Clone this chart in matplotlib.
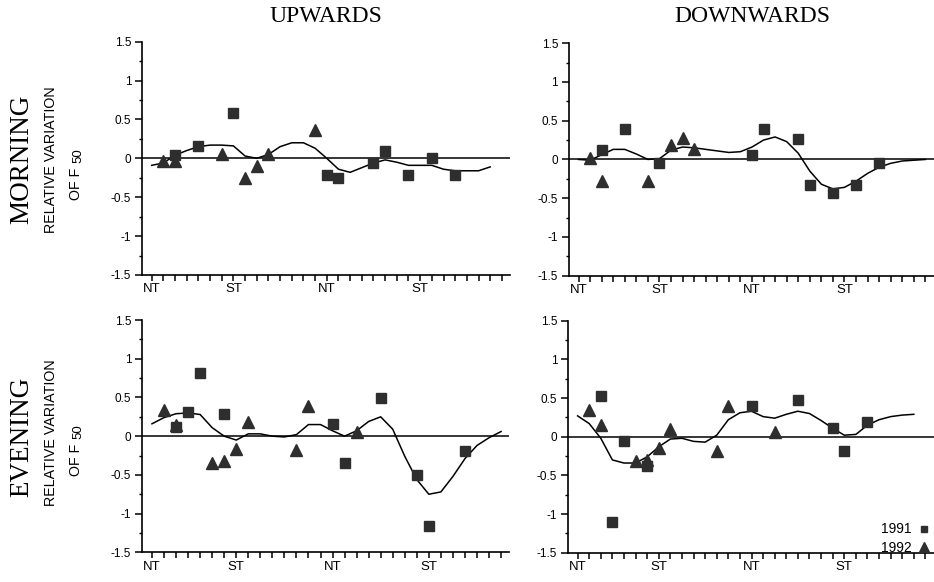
import matplotlib
matplotlib.use("Agg")
import matplotlib.pyplot as plt
from matplotlib.ticker import MultipleLocator

plt.rcParams["font.family"] = "Liberation Sans"

# tide phase labels on the x axis (tick index -> label)
phase_pos = [0, 7, 15, 23]
phase_labels = ["NT", "ST", "NT", "ST"]

# morning / upwards
mu_sq_x = [2, 4, 7, 15, 16, 19, 20, 22, 24, 26]
mu_sq_y = [0.04, 0.16, 0.58, -0.21, -0.25, -0.06, 0.10, -0.21, 0.0, -0.21]
mu_tri_x = [1, 2, 6, 8, 9, 10, 14]
mu_tri_y = [-0.04, -0.04, 0.06, -0.25, -0.10, 0.06, 0.36]
mu_curve = [-0.09, -0.06, 0.04, 0.10, 0.15, 0.17, 0.17, 0.16, 0.03, 0.0,
            0.05, 0.15, 0.20, 0.20, 0.13, 0.0, -0.14, -0.18, -0.12, -0.06,
            -0.02, -0.05, -0.09, -0.09, -0.09, -0.14, -0.16, -0.16, -0.16, -0.11]

# morning / downwards
md_sq_x = [2, 4, 7, 15, 16, 19, 20, 22, 24, 26]
md_sq_y = [0.12, 0.39, -0.04, 0.06, 0.39, 0.26, -0.33, -0.43, -0.33, -0.05]
md_tri_x = [1, 2, 6, 8, 9, 10]
md_tri_y = [0.02, -0.28, -0.28, 0.18, 0.28, 0.14]
md_curve = [0.0, -0.01, 0.06, 0.13, 0.13, 0.07, 0.0, 0.01, 0.12, 0.16,
             0.15, 0.13, 0.11, 0.09, 0.10, 0.16, 0.25, 0.29, 0.23, 0.08,
             -0.15, -0.32, -0.38, -0.36, -0.28, -0.18, -0.10, -0.05, -0.02, -0.01, 0.0]

# evening / upwards
eu_sq_x = [2, 3, 4, 6, 15, 16, 19, 22, 23, 26]
eu_sq_y = [0.12, 0.31, 0.82, 0.29, 0.16, -0.34, 0.49, -0.50, -1.16, -0.19]
eu_tri_x = [1, 2, 5, 6, 7, 8, 12, 13, 17]
eu_tri_y = [0.34, 0.14, -0.34, -0.32, -0.16, 0.18, -0.18, 0.39, 0.06]
eu_curve = [0.16, 0.24, 0.29, 0.30, 0.28, 0.11, 0.0, -0.05, 0.03, 0.03,
            0.0, -0.01, 0.02, 0.15, 0.15, 0.07, 0.0, 0.07, 0.19, 0.25,
            0.09, -0.26, -0.56, -0.75, -0.72, -0.52, -0.29, -0.12, -0.02, 0.06]

# evening / downwards
ed_sq_x = [2, 3, 4, 6, 15, 19, 22, 23, 25]
ed_sq_y = [0.53, -1.10, -0.06, -0.375, 0.40, 0.47, 0.11, -0.18, 0.19]
ed_tri_x = [1, 2, 5, 6, 7, 8, 12, 13, 17]
ed_tri_y = [0.34, 0.15, -0.32, -0.30, -0.14, 0.10, -0.19, 0.40, 0.06]
ed_curve = [0.27, 0.17, -0.02, -0.30, -0.34, -0.34, -0.26, -0.13, -0.03, -0.02,
            -0.06, -0.07, 0.02, 0.22, 0.31, 0.33, 0.26, 0.24, 0.29, 0.33,
            0.30, 0.21, 0.11, 0.02, 0.03, 0.15, 0.22, 0.26, 0.28, 0.29]

years = ["1991", "1992"]

MARK = "#2e2e2e"

fig = plt.figure(figsize=(9.34, 5.82), dpi=100)

panels = [
    ([0.1524, 0.5275, 0.3937, 0.4009], 31, mu_sq_x, mu_sq_y, mu_tri_x, mu_tri_y, mu_curve),
    ([0.6095, 0.5263, 0.3900, 0.3995], 31, md_sq_x, md_sq_y, md_tri_x, md_tri_y, md_curve),
    ([0.1524, 0.0510, 0.3931, 0.3991], 30, eu_sq_x, eu_sq_y, eu_tri_x, eu_tri_y, eu_curve),
    ([0.6085, 0.0503, 0.3910, 0.3986], 31, ed_sq_x, ed_sq_y, ed_tri_x, ed_tri_y, ed_curve),
]

axes = []
for rect, nticks, sx, sy, tx, ty, curve in panels:
    ax = fig.add_axes(rect)
    ax.set_xlim(-0.8, nticks - 0.3)
    ax.set_ylim(-1.5, 1.5)
    ax.axhline(0, color="black", lw=1.1, zorder=1)
    ax.plot(range(len(curve)), curve, color="black", lw=1.1, zorder=2)
    ax.plot(sx, sy, ls="none", marker="s", ms=7, color=MARK, zorder=3)
    ax.plot(tx, ty, ls="none", marker="^", ms=8, color=MARK, zorder=3)

    for s in ["top", "right"]:
        ax.spines[s].set_visible(False)
    for s in ["left", "bottom"]:
        ax.spines[s].set_linewidth(1.2)

    ax.set_xticks(range(nticks))
    labels = [""] * nticks
    for p, lab in zip(phase_pos, phase_labels):
        labels[p] = lab
    ax.set_xticklabels(labels, fontsize=9.5)
    ax.tick_params(axis="x", direction="out", length=4, width=1.1, pad=2)

    ax.set_yticks([-1.5, -1, -0.5, 0, 0.5, 1, 1.5])
    ax.set_yticklabels(["-1.5", "-1", "-0.5", "0", "0.5", "1", "1.5"], fontsize=8.5)
    ax.yaxis.set_minor_locator(MultipleLocator(0.25))
    ax.tick_params(axis="y", which="major", direction="out", length=5, width=1.1, pad=3)
    ax.tick_params(axis="y", which="minor", direction="out", length=2.5, width=1.0)
    axes.append(ax)

# legend in the last panel: label first, marker after
h1 = axes[3].plot([], [], ls="none", marker="s", ms=5, color=MARK)[0]
h2 = axes[3].plot([], [], ls="none", marker="^", ms=6.5, color=MARK)[0]
axes[3].legend([h1, h2], years, markerfirst=False, frameon=False, fontsize=10,
               loc="lower right", bbox_to_anchor=(1.005, -0.032), handlelength=0.8,
               handletextpad=0.5, labelspacing=0.3, borderaxespad=0)

serif = "Liberation Serif"
fig.text(0.349, 0.972, "UPWARDS", family=serif, fontsize=17, ha="center", va="center")
fig.text(0.805, 0.972, "DOWNWARDS", family=serif, fontsize=17, ha="center", va="center")

fig.text(0.0236, 0.727, "MORNING", family=serif, fontsize=19.5, rotation=90, ha="center", va="center")
fig.text(0.0236, 0.249, "EVENING", family=serif, fontsize=19.5, rotation=90, ha="center", va="center")
for yc, yo in [(0.725, 0.712), (0.257, 0.238)]:
    fig.text(0.0546, yc, "RELATIVE VARIATION", fontsize=10.3, rotation=90, ha="center", va="center")
    fig.text(0.0814, yo, "OF F", fontsize=10.3, rotation=90, ha="center", va="top")
    fig.text(0.0835, yo + 0.008, "50", fontsize=9.5, rotation=90, ha="center", va="bottom")

fig.savefig("out.png", dpi=100)
